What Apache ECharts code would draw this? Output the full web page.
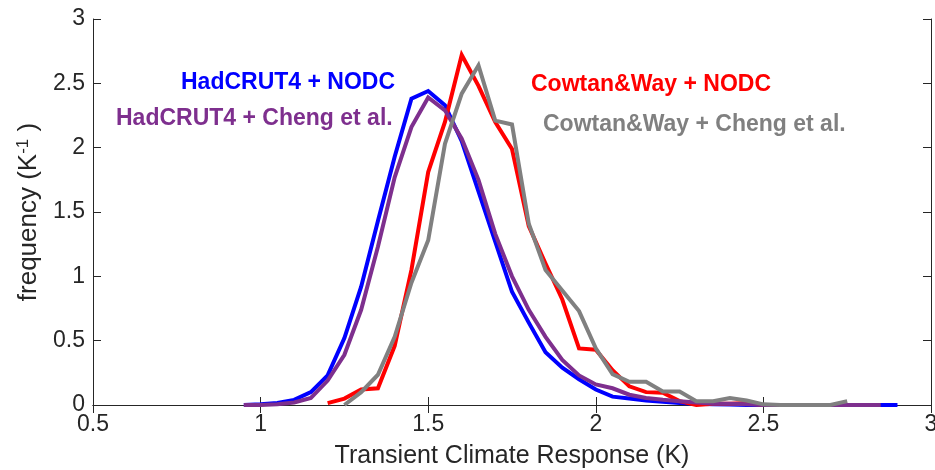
<!DOCTYPE html>
<html>
<head>
<meta charset="utf-8">
<script src="https://cdn.jsdelivr.net/npm/echarts@6/dist/echarts.min.js"></script>
<style>
  html, body { margin: 0; padding: 0; background: #fff; }
  #chart { width: 935px; height: 470px; }
</style>
</head>
<body>
<div id="chart"></div>
<script>
// TCR histograms, four obs combos. Bins every 0.05 K; null = bin not drawn.

const bins = [0.95, 1.0, 1.05, 1.1, 1.15, 1.2, 1.25, 1.3, 1.35, 1.4,
  1.45, 1.5, 1.55, 1.6, 1.65, 1.7, 1.75, 1.8, 1.85, 1.9,
  1.95, 2.0, 2.05, 2.1, 2.15, 2.2, 2.25, 2.3, 2.35, 2.4,
  2.45, 2.5, 2.55, 2.6, 2.65, 2.7, 2.75, 2.8, 2.85, 2.9];

const hadNodc = [0, 0.005, 0.015, 0.04, 0.1, 0.23, 0.52, 0.92, 1.43, 1.93,
  2.38, 2.44, 2.33, 2.05, 1.66, 1.27, 0.88, 0.64, 0.41, 0.29,
  0.2, 0.12, 0.065, 0.05, 0.035, 0.025, 0.015, 0.01, 0.005, 0.003,
  0, 0, 0, 0, 0, 0, 0, 0, 0, 0];

const hadCheng = [0, 0, 0.005, 0.02, 0.055, 0.19, 0.39, 0.74, 1.23, 1.77,
  2.16, 2.39, 2.29, 2.07, 1.75, 1.33, 1.0, 0.74, 0.53, 0.35,
  0.23, 0.16, 0.13, 0.08, 0.055, 0.04, 0.03, 0.02, 0.01, 0.01,
  0.005, 0, 0, 0, 0, 0, 0, 0, 0, null];

const cwNodc = [null, null, null, null, null, 0.015, 0.05, 0.12, 0.13, 0.46,
  1.05, 1.81, 2.2, 2.72, 2.48, 2.2, 1.99, 1.39, 1.1, 0.82,
  0.44, 0.43, 0.27, 0.145, 0.1, 0.095, 0.03, 0, 0.01, 0.01,
  0.015, 0, null, null, null, null, null, null, null, null];

const cwCheng = [null, null, null, null, null, null, 0, 0.1, 0.235, 0.53,
  0.95, 1.28, 2.03, 2.42, 2.64, 2.21, 2.18, 1.41, 1.05, 0.89,
  0.73, 0.44, 0.24, 0.18, 0.18, 0.105, 0.105, 0.03, 0.03, 0.055,
  0.035, 0.005, 0, 0, 0, 0, 0.03, null, null, null];

const xTicks = [0.5, 1, 1.5, 2, 2.5, 3];
const yTicks = [0, 0.5, 1, 1.5, 2, 2.5, 3];

const SERIES = [
  { name: 'HadCRUT4 + NODC', data: hadNodc, color: '#0000ff' },
  { name: 'Cowtan&Way + NODC', data: cwNodc, color: '#ff0000' },
  { name: 'HadCRUT4 + Cheng et al.', data: hadCheng, color: '#7e2f8e' },
  { name: 'Cowtan&Way + Cheng et al.', data: cwCheng, color: '#808080' },
];

const INK = '#262626';
const FONT = "'Liberation Sans', Arial, sans-serif";

function pairs(ys) {
  return bins.map((x, i) => [x, ys[i]]);
}

function axisBase(extra) {
  return Object.assign({
    type: 'value',
    axisLine: { show: true, lineStyle: { color: INK, width: 1 } },
    axisTick: { show: true, inside: true, length: 8, lineStyle: { color: INK } },
    splitLine: { show: false },
  }, extra);
}

const chart = echarts.init(document.getElementById('chart'));

chart.setOption({
  animation: false,
  // fixed plot box, don't let v6 shrink it to fit the axis names
  grid: { left: 93, right: 4, top: 19, bottom: 65, outerBoundsMode: 'none', containLabel: false },
  xAxis: [
    axisBase({
      min: xTicks[0], max: xTicks[xTicks.length - 1], interval: 0.5,
      position: 'bottom',
      axisLabel: { color: INK, fontSize: 23, fontFamily: FONT, margin: 8,
        formatter: (v) => String(v) },
      name: 'Transient Climate Response (K)',
      nameLocation: 'middle', nameGap: 39,
      nameTextStyle: { color: INK, fontSize: 25, fontFamily: FONT },
    }),
    axisBase({
      min: xTicks[0], max: xTicks[xTicks.length - 1], interval: 0.5,
      position: 'top', axisLabel: { show: false },
    }),
  ],
  yAxis: [
    axisBase({
      min: yTicks[0], max: yTicks[yTicks.length - 1], interval: 0.5,
      position: 'left',
      axisLabel: { color: INK, fontSize: 23, fontFamily: FONT, margin: 8,
        formatter: (v) => String(v) },
      name: '{a|frequency (K}{s|-1}{a| )}',
      nameLocation: 'middle', nameGap: 50, nameRotate: 90,
      nameTextStyle: {
        color: INK, fontFamily: FONT,
        rich: {
          a: { fontSize: 26, color: INK, fontFamily: FONT, lineHeight: 28 },
          s: { fontSize: 17, color: INK, fontFamily: FONT, verticalAlign: 'top', lineHeight: 28 },
        },
      },
    }),
    axisBase({
      min: yTicks[0], max: yTicks[yTicks.length - 1], interval: 0.5,
      position: 'right', axisLabel: { show: false },
    }),
  ],
  series: SERIES.map(s => ({
    type: 'line',
    name: s.name,
    data: pairs(s.data),
    showSymbol: false,
    connectNulls: false,
    lineStyle: { color: s.color, width: 4, join: 'miter' },
    itemStyle: { color: s.color },
  })),
  graphic: [
    { type: 'text', left: 181, top: 71,
      style: { text: 'HadCRUT4 + NODC', fill: '#0000ff', font: `bold 23px ${FONT}` } },
    { type: 'text', left: 116, top: 107,
      style: { text: 'HadCRUT4 + Cheng et al.', fill: '#7e2f8e', font: `bold 23px ${FONT}` } },
    { type: 'text', left: 531, top: 73,
      style: { text: 'Cowtan&Way + NODC', fill: '#ff0000', font: `bold 23px ${FONT}` } },
    { type: 'text', left: 543, top: 113,
      style: { text: 'Cowtan&Way + Cheng et al.', fill: '#808080', font: `bold 23px ${FONT}` } },
  ],
});
</script>
</body>
</html>
